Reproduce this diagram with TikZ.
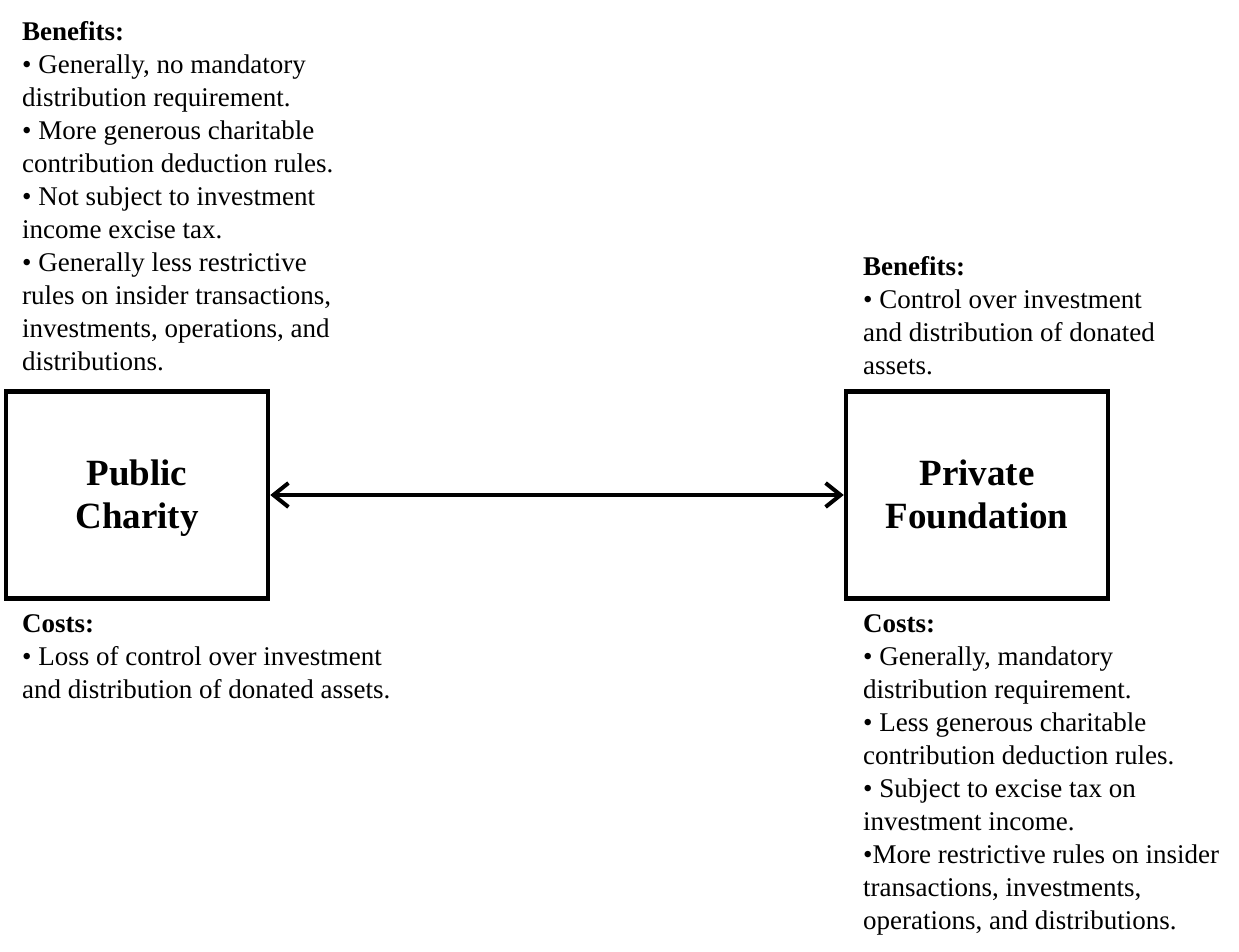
\documentclass[tikz,border=0pt]{standalone}
\usepackage{fontspec}
\setmainfont{Liberation Serif}
\usetikzlibrary{arrows.meta}
\tikzset{
  orgbox/.style={draw=black, line width=4.5pt, minimum width=262pt, minimum height=207pt, inner sep=0pt, align=center, font=\bfseries\fontsize{37}{43}\selectfont},
  txt/.style={anchor=north west, inner sep=0pt, align=left, font=\fontsize{27}{33}\selectfont},
  link/.style={line width=4pt, {Straight Barb[length=15pt,width=24pt,line width=4pt]}-{Straight Barb[length=15pt,width=24pt,line width=4pt]}}
}
\begin{document}
\begin{tikzpicture}[x=1pt,y=-1pt]
\useasboundingbox[fill=white] (0,0) rectangle (1239,952);
\node[orgbox] (pc) at (137,495) {\rule{0pt}{31pt}Public\\Charity\vphantom{y}};
\node[orgbox] (pf) at (977,495) {\rule{0pt}{31pt}Private\\Foundation\vphantom{y}};
\draw[link] (pc.east) -- (pf.west);
\node[txt] (lb) at (22,21.5) {\textbf{Benefits:}\\
• Generally, no mandatory\\
distribution requirement.\\
• More generous charitable\\
contribution deduction rules.\\
• Not subject to investment\\
income excise tax.\\
• Generally less restrictive\\
rules on insider transactions,\\
investments, operations, and\\
distributions.};
\node[txt] (rb) at (863,256) {\textbf{Benefits:}\\
• Control over investment\\
and distribution of donated\\
assets.};
\node[txt] (lc) at (22,614) {\textbf{Costs:}\\
• Loss of control over investment\\
and distribution of donated assets.};
\node[txt] (rc) at (863,614) {\textbf{Costs:}\\
• Generally, mandatory\\
distribution requirement.\\
• Less generous charitable\\
contribution deduction rules.\\
• Subject to excise tax on\\
investment income.\\
•More restrictive rules on insider\\
transactions, investments,\\
operations, and distributions.};
\end{tikzpicture}
\end{document}
